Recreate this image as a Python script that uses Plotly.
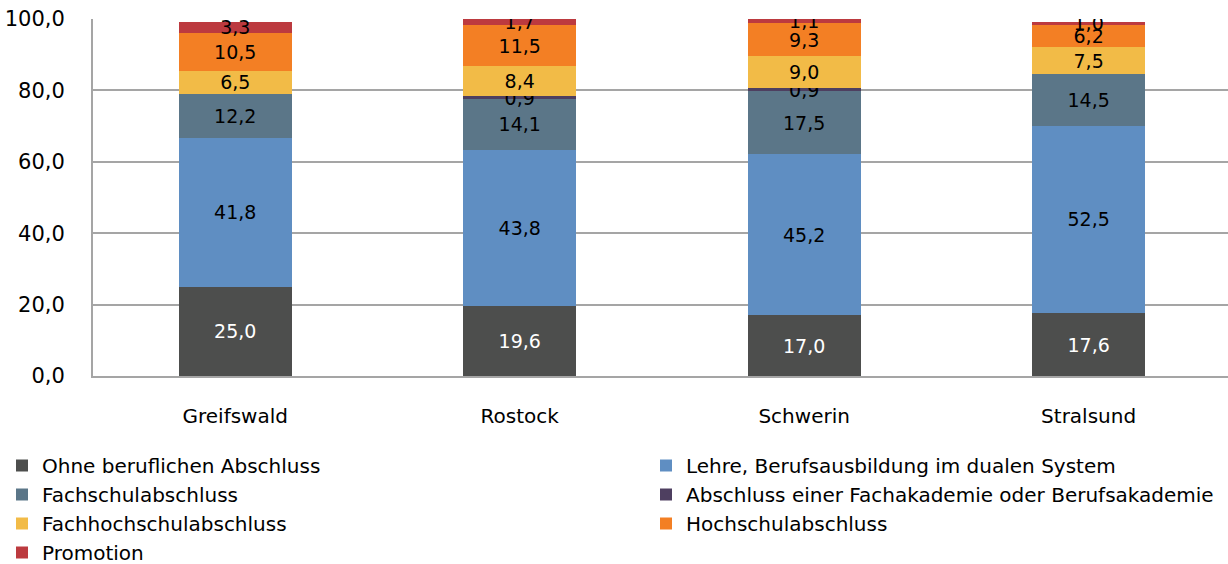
import plotly.graph_objects as go

# Städte (Kategorien)
staedte = ["Greifswald", "Rostock", "Schwerin", "Stralsund"]

# Anteile in Prozent je Abschlussart
ohne_abschluss = [25.0, 19.6, 17.0, 17.6]
lehre = [41.8, 43.8, 45.2, 52.5]
fachschule = [12.2, 14.1, 17.5, 14.5]
fachakademie = [None, 0.9, 0.9, None]
fachhochschule = [6.5, 8.4, 9.0, 7.5]
hochschule = [10.5, 11.5, 9.3, 6.2]
promotion = [3.3, 1.7, 1.1, 1.0]

y_ticks = [0, 20, 40, 60, 80, 100]

# (Name, Werte, Balkenfarbe, Textfarbe, Legendenspalte)
serien = [
    ("Ohne beruflichen Abschluss", ohne_abschluss, "#4d4e4d", "white", "legend"),
    ("Lehre, Berufsausbildung im dualen System", lehre, "#5f8ec2", "black", "legend2"),
    ("Fachschulabschluss", fachschule, "#5b7688", "black", "legend"),
    ("Abschluss einer Fachakademie oder Berufsakademie", fachakademie, "#4e3f60", "black", "legend2"),
    ("Fachhochschulabschluss", fachhochschule, "#f2bb47", "black", "legend"),
    ("Hochschulabschluss", hochschule, "#f37f24", "black", "legend2"),
    ("Promotion", promotion, "#bc3a3f", "black", "legend"),
]

FONT = "DejaVu Sans"

fig = go.Figure()
for name, werte, farbe, textfarbe, spalte in serien:
    texte = ["" if v is None else f"{v:.1f}".replace(".", ",") for v in werte]
    fig.add_trace(go.Bar(
        name=name,
        x=staedte,
        y=werte,
        legend=spalte,
        marker=dict(color=farbe, line=dict(width=0)),
        text=texte,
        texttemplate="%{text}",
        textposition="inside",
        insidetextanchor="middle",
        textangle=0,
        constraintext="none",
        textfont=dict(family=FONT, size=19, color=textfarbe),
        hoverinfo="name+y",
    ))

legend_style = dict(
    orientation="v",
    xref="container",
    yref="container",
    y=1 - 446 / 564,
    xanchor="left",
    yanchor="top",
    traceorder="normal",
    font=dict(family=FONT, size=20, color="black"),
    bgcolor="rgba(0,0,0,0)",
)

fig.update_layout(
    barmode="stack",
    bargap=0.603,
    width=1228,
    height=564,
    margin=dict(l=93, r=0, t=19, b=188, autoexpand=False),
    paper_bgcolor="white",
    plot_bgcolor="white",
    separators=",.",
    font=dict(family=FONT, size=20, color="black"),
    uniformtext=dict(mode="show", minsize=19),
    showlegend=True,
    legend=dict(x=2 / 1228, **legend_style),
    legend2=dict(x=646 / 1228, **legend_style),
    xaxis=dict(
        type="category",
        range=[-0.5, 3.49],
        showgrid=False,
        showline=True,
        linecolor="#a5a5a5",
        linewidth=2,
        ticks="",
        tickangle=0,
        ticklabelstandoff=21,
        tickfont=dict(family=FONT, size=20, color="black"),
    ),
    yaxis=dict(
        range=[0, 100],
        tickvals=y_ticks,
        tickformat=".1f",
        showgrid=True,
        gridcolor="#a5a5a5",
        gridwidth=2,
        zeroline=False,
        showline=True,
        linecolor="#a5a5a5",
        linewidth=2,
        ticks="",
        ticklabelstandoff=22,
        tickfont=dict(family=FONT, size=21, color="black"),
    ),
)

fig.write_html("out.html")
